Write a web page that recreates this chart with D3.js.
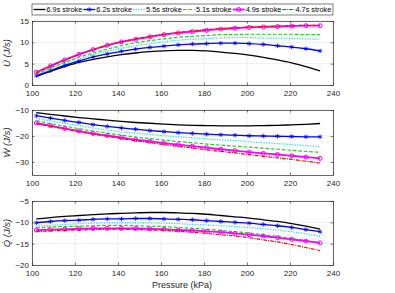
<!DOCTYPE html>
<html>
<head>
<meta charset="utf-8">
<script src="https://cdn.jsdelivr.net/npm/d3@7"></script>
<style>
  body { margin: 0; background: #fff; }
  svg { display: block; }
  text { font-family: "Liberation Sans", Arial, sans-serif; }
</style>
</head>
<body>
<svg id="chart" width="395" height="293"></svg>
<script>
// Pressure samples (kPa), shared by every series
const pressure = [102, 108.6, 115.2, 121.8, 128.4, 135, 141.6, 148.2, 154.8, 161.4, 168,
                  174.6, 181.2, 187.8, 194.4, 201, 207.6, 214.2, 220.8, 227.4, 234];

const strokeLabels = ["6.9s stroke", "6.2s stroke", "5.5s stroke", "5.1s stroke", "4.9s stroke", "4.7s stroke"];

// U dot (J/s), one row per stroke time
const uDotValues = [
    [2.0, 3.2, 4.3, 5.3, 6.0, 6.6, 7.1, 7.5, 7.8, 8.0, 8.1, 8.1, 8.0, 7.7, 7.4, 7.0, 6.5, 5.9, 5.2, 4.3, 3.3],
    [2.2, 3.4, 4.6, 5.6, 6.6, 7.3, 7.9, 8.4, 8.8, 9.1, 9.4, 9.6, 9.7, 9.8, 9.8, 9.7, 9.5, 9.2, 8.9, 8.5, 8.0],
    [2.4, 3.7, 5.0, 6.1, 7.1, 7.9, 8.6, 9.2, 9.7, 10.1, 10.5, 10.7, 10.9, 11.0, 11.1, 11.1, 11.0, 11.0, 10.9, 10.8, 10.7],
    [2.6, 4.0, 5.3, 6.5, 7.5, 8.4, 9.2, 9.9, 10.4, 10.8, 11.2, 11.4, 11.6, 11.8, 11.8, 11.9, 11.9, 11.9, 11.9, 11.8, 11.8],
    [3.0, 4.5, 5.9, 7.2, 8.3, 9.3, 10.1, 10.7, 11.3, 11.8, 12.2, 12.5, 12.8, 13.1, 13.3, 13.5, 13.6, 13.7, 13.8, 13.9, 13.9],
    [2.8, 4.4, 5.8, 7.1, 8.3, 9.3, 10.1, 10.8, 11.4, 11.9, 12.3, 12.7, 13.0, 13.2, 13.4, 13.6, 13.7, 13.8, 13.9, 14.0, 14.0]
];

// W dot (J/s)
const wDotValues = [
    [-11.0, -11.7, -12.3, -12.9, -13.4, -13.9, -14.4, -14.8, -15.1, -15.4, -15.7, -15.9, -16.0, -16.1, -16.1, -16.1, -16.0, -15.9, -15.7, -15.5, -15.2],
    [-12.2, -13.1, -14.0, -14.8, -15.6, -16.3, -16.9, -17.4, -17.9, -18.3, -18.7, -19.0, -19.3, -19.5, -19.7, -19.9, -20.0, -20.1, -20.2, -20.3, -20.3],
    [-13.2, -14.2, -15.1, -16.0, -16.9, -17.7, -18.4, -18.9, -19.4, -19.9, -20.3, -20.7, -21.1, -21.5, -21.8, -22.2, -22.6, -22.9, -23.3, -23.7, -24.1],
    [-14.1, -15.2, -16.2, -17.2, -18.1, -18.9, -19.7, -20.4, -21.0, -21.6, -22.1, -22.6, -23.1, -23.5, -23.9, -24.3, -24.7, -25.1, -25.5, -25.9, -26.3],
    [-15.0, -16.0, -17.1, -18.1, -19.0, -19.8, -20.6, -21.4, -22.0, -22.7, -23.3, -23.9, -24.5, -25.1, -25.6, -26.2, -26.7, -27.1, -27.6, -28.1, -28.6],
    [-15.3, -16.3, -17.3, -18.3, -19.3, -20.1, -21.0, -21.8, -22.5, -23.3, -24.0, -24.6, -25.3, -25.9, -26.5, -27.2, -27.8, -28.4, -29.0, -29.7, -30.4]
];

// Q dot (J/s)
const qDotValues = [
    [-9.2, -8.9, -8.6, -8.4, -8.2, -8.0, -7.9, -7.8, -7.7, -7.7, -7.8, -7.9, -8.1, -8.4, -8.7, -9.0, -9.4, -9.8, -10.3, -10.9, -11.6],
    [-10.1, -9.8, -9.6, -9.5, -9.3, -9.2, -9.2, -9.1, -9.1, -9.2, -9.3, -9.4, -9.6, -9.8, -10.0, -10.2, -10.5, -10.8, -11.2, -11.7, -12.2],
    [-10.9, -10.7, -10.5, -10.3, -10.2, -10.1, -10.1, -10.1, -10.1, -10.2, -10.3, -10.5, -10.6, -10.8, -11.0, -11.2, -11.5, -11.8, -12.2, -12.7, -13.3],
    [-11.3, -11.1, -11.0, -10.9, -10.8, -10.7, -10.7, -10.8, -10.9, -11.0, -11.2, -11.4, -11.6, -11.9, -12.2, -12.5, -12.9, -13.3, -13.8, -14.3, -14.9],
    [-11.8, -11.7, -11.6, -11.5, -11.4, -11.4, -11.4, -11.4, -11.5, -11.6, -11.8, -11.9, -12.1, -12.3, -12.6, -12.9, -13.2, -13.6, -14.0, -14.4, -14.8],
    [-12.2, -12.0, -11.9, -11.8, -11.7, -11.6, -11.6, -11.7, -11.8, -11.9, -12.1, -12.3, -12.6, -12.9, -13.2, -13.6, -14.1, -14.6, -15.2, -15.9, -16.6]
];

// Tick values
const xTicks = [100, 120, 140, 160, 180, 200, 220, 240];
const uTicks = [0, 5, 10, 15];
const wTicks = [-30, -20, -10];
const qTicks = [-20, -15, -10, -5];

// Line styles, same order as strokeLabels
const styles = [
    { color: "#000000", dash: null, width: 1.3, marker: null },
    { color: "#0000ff", dash: null, width: 1.3, marker: "star" },
    { color: "#22e0e8", dash: "1.2,1.4", width: 1.3, marker: null },
    { color: "#22cc22", dash: "3.5,2", width: 1.2, marker: null },
    { color: "#ff00ff", dash: null, width: 1.8, marker: "circle" },
    { color: "#ff0000", dash: "3.5,1.2,1,1.2", width: 1.2, marker: null }
];

const axisColor = "#262626";
const gridColor = "#e3e3e3";

const svg = d3.select("#chart");

const x = d3.scaleLinear().domain([100, 240]).range([32, 333]);

function drawPanel(values, domain, ticks, top, bottom, label) {
    const y = d3.scaleLinear().domain(domain).range([bottom, top]);
    const g = svg.append("g");

    // background
    g.append("rect")
        .attr("x", x.range()[0]).attr("y", top)
        .attr("width", x.range()[1] - x.range()[0]).attr("height", bottom - top)
        .attr("fill", "#fff");

    // grid
    g.append("g").selectAll("line").data(xTicks).join("line")
        .attr("x1", d => x(d)).attr("x2", d => x(d))
        .attr("y1", top).attr("y2", bottom)
        .attr("stroke", gridColor).attr("stroke-width", 0.6);
    g.append("g").selectAll("line").data(ticks).join("line")
        .attr("x1", x.range()[0]).attr("x2", x.range()[1])
        .attr("y1", d => y(d)).attr("y2", d => y(d))
        .attr("stroke", gridColor).attr("stroke-width", 0.6);

    // series
    const line = d3.line()
        .x((d, i) => x(pressure[i]))
        .y(d => y(d))
        .curve(d3.curveMonotoneX);

    values.forEach((row, k) => {
        const s = styles[k];
        g.append("path")
            .attr("d", line(row))
            .attr("fill", "none")
            .attr("stroke", s.color)
            .attr("stroke-width", s.width)
            .attr("stroke-dasharray", s.dash);
        if (s.marker) {
            drawMarkers(g, row.map((v, i) => [x(pressure[i]), y(v)]), s);
        }
    });

    // axes (ticks pointing inwards, box all round)
    const bottomAxis = g.append("g")
        .attr("transform", `translate(0,${bottom})`)
        .call(d3.axisBottom(x).tickValues(xTicks).tickSizeInner(-2.5).tickSizeOuter(0).tickPadding(5));
    const leftAxis = g.append("g")
        .attr("transform", `translate(${x.range()[0]},0)`)
        .call(d3.axisLeft(y).tickValues(ticks).tickSizeInner(-2.5).tickSizeOuter(0).tickPadding(3));
    const topAxis = g.append("g")
        .attr("transform", `translate(0,${top})`)
        .call(d3.axisTop(x).tickValues(xTicks).tickSizeInner(-2.5).tickSizeOuter(0).tickFormat(""));
    const rightAxis = g.append("g")
        .attr("transform", `translate(${x.range()[1]},0)`)
        .call(d3.axisRight(y).tickValues(ticks).tickSizeInner(-2.5).tickSizeOuter(0).tickFormat(""));

    [bottomAxis, leftAxis, topAxis, rightAxis].forEach(a => {
        a.select(".domain").attr("stroke", axisColor).attr("stroke-width", 0.7);
        a.selectAll(".tick line").attr("stroke", axisColor).attr("stroke-width", 0.6);
        a.selectAll(".tick text")
            .attr("fill", axisColor)
            .attr("font-size", 8)
            .attr("font-family", "'Liberation Sans', Arial, sans-serif");
    });

    // y label, italic with dot accent
    svg.append("text")
        .attr("transform", `translate(10,${(top + bottom) / 2}) rotate(-90)`)
        .attr("text-anchor", "middle")
        .attr("fill", axisColor)
        .attr("font-size", 9.5)
        .attr("font-style", "italic")
        .attr("font-family", "'Liberation Serif', 'Times New Roman', serif")
        .text(label);
}

function drawMarkers(g, pts, s) {
    if (s.marker === "circle") {
        g.append("g").selectAll("circle").data(pts).join("circle")
            .attr("cx", d => d[0]).attr("cy", d => d[1]).attr("r", 2)
            .attr("fill", "none").attr("stroke", s.color).attr("stroke-width", 1);
    } else {
        const sym = d3.symbol().type(d3.symbolAsterisk).size(14);
        g.append("g").selectAll("path").data(pts).join("path")
            .attr("transform", d => `translate(${d[0]},${d[1]})`)
            .attr("d", sym)
            .attr("fill", "none").attr("stroke", s.color).attr("stroke-width", 0.8);
    }
}

drawPanel(uDotValues, [0, 15], uTicks, 21, 85, "U\u0307 (J/s)");
drawPanel(wDotValues, [-35, -10], wTicks, 110, 175, "W\u0307 (J/s)");
drawPanel(qDotValues, [-20, -5], qTicks, 201, 265, "Q\u0307 (J/s)");

// x axis title
svg.append("text")
    .attr("x", 182).attr("y", 288)
    .attr("text-anchor", "middle")
    .attr("fill", axisColor)
    .attr("font-size", 9)
    .text("Pressure (kPa)");

// Legend across the top
const legend = svg.append("g");
legend.append("rect")
    .attr("x", 32).attr("y", 4).attr("width", 301).attr("height", 11)
    .attr("fill", "#fff").attr("stroke", axisColor).attr("stroke-width", 0.6);

strokeLabels.forEach((name, k) => {
    const s = styles[k];
    const x0 = 33.5 + k * 49.8;
    const ly = 9.5;
    legend.append("line")
        .attr("x1", x0).attr("x2", x0 + 12)
        .attr("y1", ly).attr("y2", ly)
        .attr("stroke", s.color).attr("stroke-width", s.width)
        .attr("stroke-dasharray", s.dash);
    if (s.marker) drawMarkers(legend, [[x0 + 6, ly]], s);
    legend.append("text")
        .attr("x", x0 + 13).attr("y", ly + 2.6)
        .attr("font-size", 7.3)
        .attr("fill", "#000")
        .text(name);
});
</script>
</body>
</html>
